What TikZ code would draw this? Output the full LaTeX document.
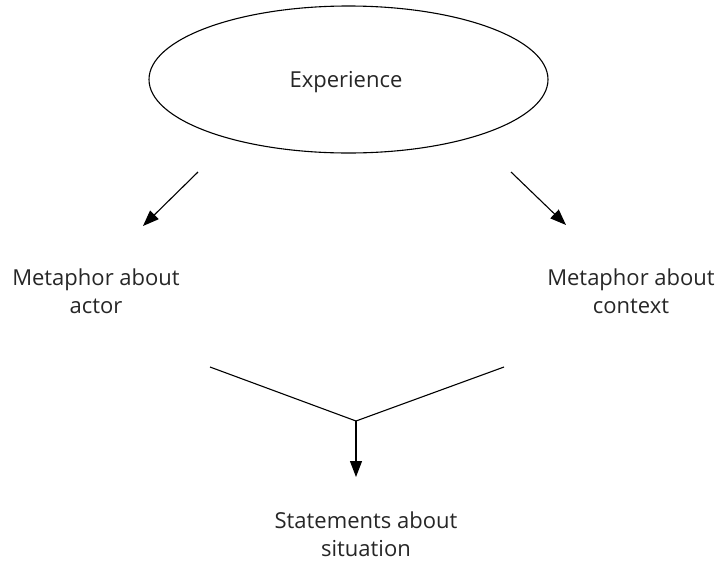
\documentclass[tikz,border=0pt]{standalone}
\usepackage{fontspec}
\setmainfont{Open Sans}
\usetikzlibrary{arrows.meta}
\begin{document}
\begin{tikzpicture}[x=1pt,y=-1pt,
  lbl/.style={align=center,inner sep=0pt,anchor=base,font=\fontsize{22}{28}\selectfont,text=black!85},
  conn/.style={line width=1.1pt,-{Triangle[length=16pt,width=12pt]}},
  plain/.style={line width=1.1pt}]
\useasboundingbox (0,0) rectangle (728,560);
\draw[line width=1.1pt] (348.5,79.5) ellipse [x radius=199.5, y radius=73.5];
\node[lbl] (exp) at (346,87) {Experience};
\node[lbl] (actor) at (96,313) {Metaphor about\\actor};
\node[lbl] (context) at (631,313) {Metaphor about\\context};
\node[lbl] (stmt) at (366,556) {Statements about\\situation};
\coordinate (l0) at (198,172);
\coordinate (l1) at (143,226);
\coordinate (r0) at (511,172);
\coordinate (r1) at (566,225);
\coordinate (va) at (210,367);
\coordinate (vb) at (504,367);
\coordinate (vm) at (356,421);
\coordinate (vt) at (356,477);
\draw[conn] (l0) -- (l1);
\draw[conn] (r0) -- (r1);
\draw[plain] (va) -- (vm) -- (vb);
\draw[conn] (vm) -- (vt);
\end{tikzpicture}
\end{document}
